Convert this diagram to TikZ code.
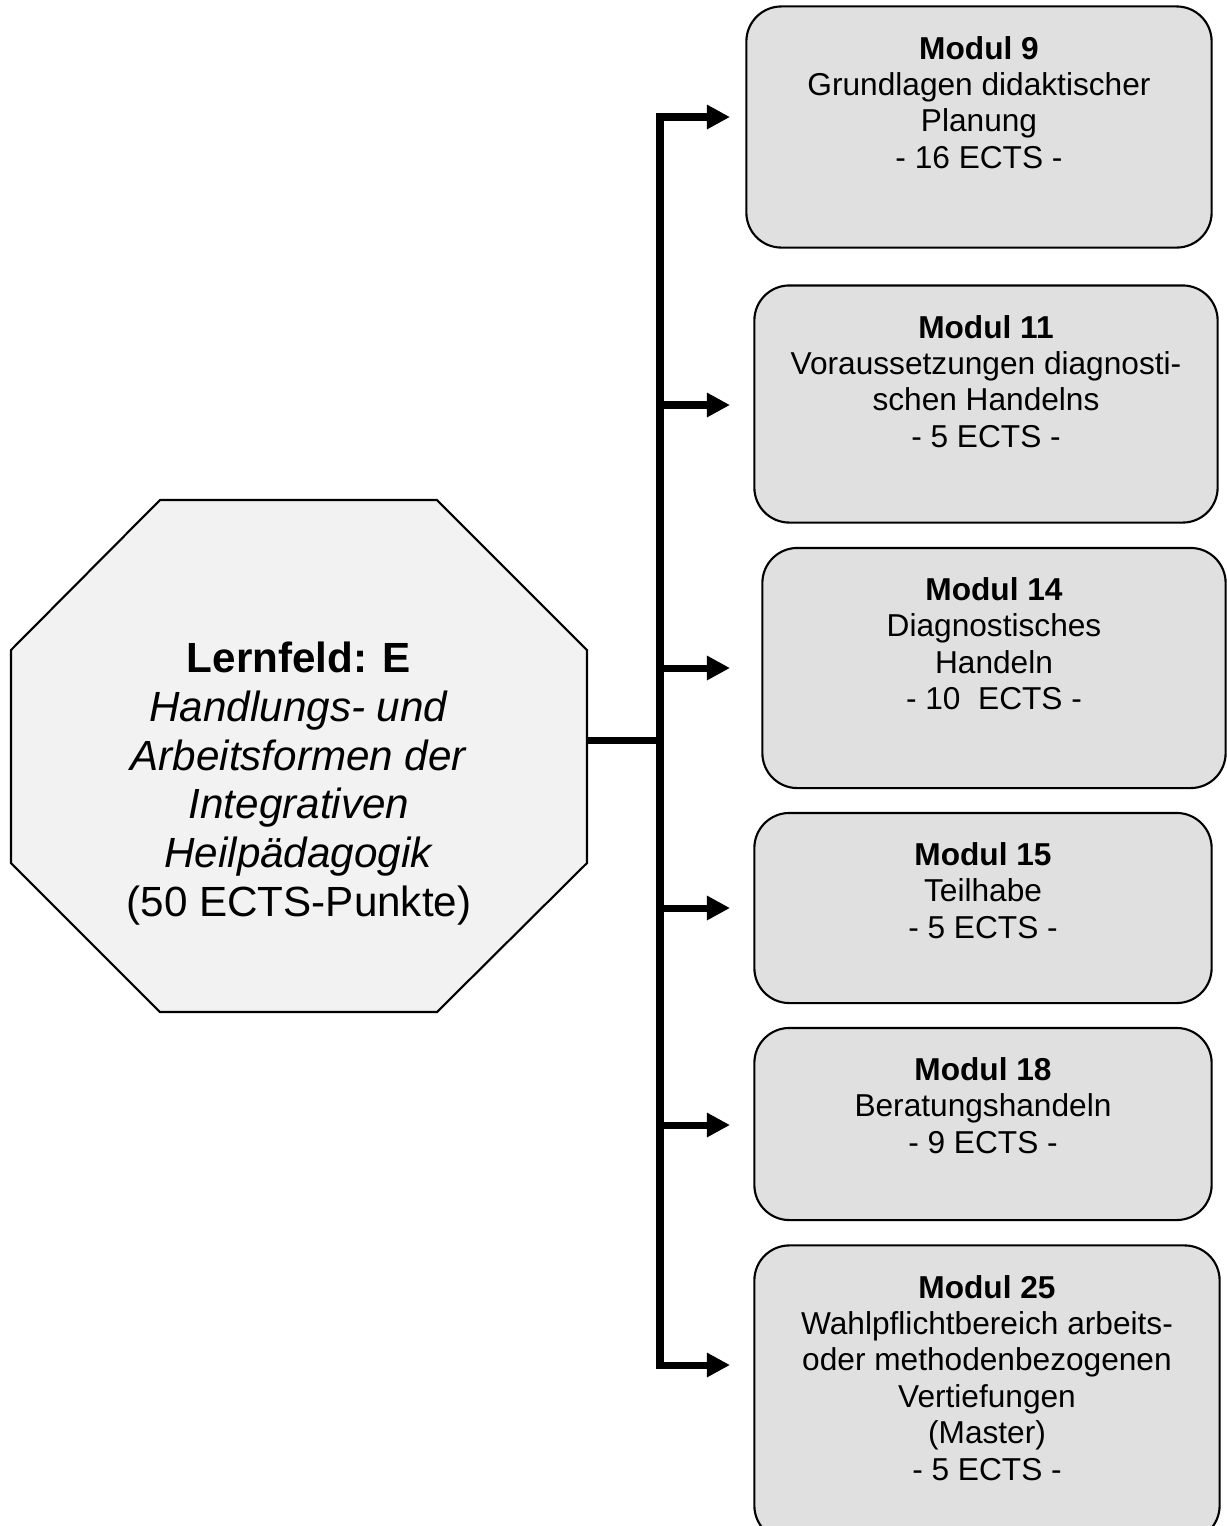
\documentclass[tikz,border=0pt]{standalone}
\usepackage{fontspec}
\setmainfont{Liberation Sans}
\usepackage{xcolor}
\usetikzlibrary{arrows.meta, positioning}
\definecolor{boxgray}{HTML}{E0E0E0}
\definecolor{octgray}{HTML}{F2F2F2}

\begin{document}
\begin{tikzpicture}[x=0.01cm, y=-0.01cm,
    modbox/.style={draw, line width=0.6pt, fill=boxgray, rounded corners=0.35cm, inner sep=0pt},
    modtext/.style={align=center, inner sep=0pt, font=\fontsize{9}{10.35}\selectfont},
    conn/.style={line width=2pt, line cap=rect},
    arr/.style={line width=2pt, -{Triangle[length=0.23cm, width=0.23cm]}}]
    \useasboundingbox (0,0) rectangle (1227,1526);
    \clip (0,0) rectangle (1227,1526);

    % Lernfeld (Achteck)
    \draw[line width=0.6pt, fill=octgray] (160,500) -- (437,500) -- (587,650) -- (587,863)
        -- (437,1012) -- (160,1012) -- (11,863) -- (11,650) -- cycle;
    \node[align=center, inner sep=0pt, anchor=north, font=\fontsize{12}{13.9}\selectfont] (lf) at (299,641)
        {\textbf{Lernfeld: E}\\\textit{Handlungs- und}\\\textit{Arbeitsformen der}\\\textit{Integrativen}\\\textit{Heilpädagogik}\\(50 ECTS-Punkte)};

    % Module
    \foreach \n/\cx/\cy/\w/\h/\txt in {
        m9/979/127/4.65/2.41/{\textbf{Modul 9}\\Grundlagen didaktischer\\Planung\\- 16 ECTS -},
        m11/986/404/4.63/2.37/{\textbf{Modul 11}\\Voraussetzungen diagnosti-\\schen Handelns\\- 5 ECTS -},
        m14/994/668/4.63/2.40/{\textbf{Modul 14}\\Diagnostisches\\Handeln\\- 10\ \ ECTS -},
        m15/983/908/4.57/1.90/{\textbf{Modul 15}\\Teilhabe\\- 5 ECTS -},
        m18/983/1124/4.57/1.92/{\textbf{Modul 18}\\Beratungshandeln\\- 9 ECTS -},
        m25/987/1393/4.65/2.95/{\textbf{Modul 25}\\Wahlpflichtbereich arbeits-\\oder methodenbezogenen\\Vertiefungen\\(Master)\\- 5 ECTS -}} {
        \node[modbox, minimum width=\w cm, minimum height=\h cm] (\n) at (\cx,\cy) {};
        \node[modtext, below=0.30cm of \n.north] (\n-txt) {\txt};
    }

    % Verbindungen
    \foreach \n/\ay in {9/117, 11/405, 14/668, 15/908, 18/1125, 25/1365}
        \coordinate (a\n) at (730,\ay);
    \coordinate (tr) at (660,740);
    \coordinate (oe) at (587,740);
    \draw[line width=2pt] (oe) -- (tr);
    \draw[conn] (a9 -| tr) -- (a25 -| tr);
    \foreach \n in {9,11,14,15,18,25}
        \draw[arr] (a\n -| tr) -- (a\n);
\end{tikzpicture}
\end{document}
